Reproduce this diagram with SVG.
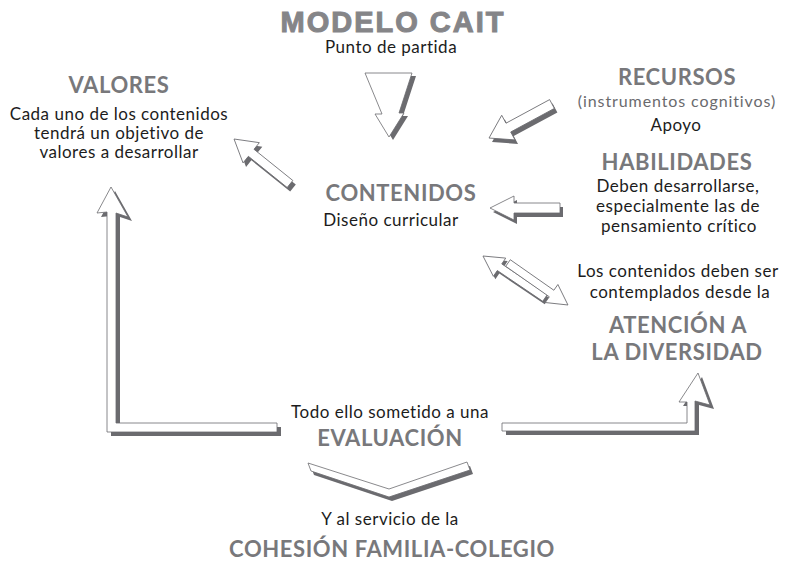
<svg xmlns="http://www.w3.org/2000/svg" width="790" height="564" viewBox="0 0 790 564">
<style>
.t{font-family:Lato,"Liberation Sans",sans-serif;font-weight:700;fill:#78787b;text-anchor:middle;font-size:22px;letter-spacing:0.6px}
.b{font-family:Lato,"Liberation Sans",sans-serif;fill:#1c1c1c;text-anchor:middle;font-size:17px;letter-spacing:0.5px}
.big{font-family:"Liberation Sans",Arial,sans-serif;font-weight:700;fill:#858588;text-anchor:middle;font-size:29px;letter-spacing:2px;stroke:#858588;stroke-width:1}
.sh{fill:#6b6b6f}
.ar{fill:#fff;stroke:#6b6b6f;stroke-width:0.8;stroke-linejoin:miter}
</style>
<rect width="790" height="564" fill="#fff"/>
<g id="connectors">
  <g id="arrow-top">
    <polygon class="sh" transform="translate(4,3)" points="365,73 412,73 399,113 404,113 389,137 375,114 382,114"/>
    <polygon class="ar" points="365,73 412,73 399,113 404,113 389,137 375,114 382,114"/>
  </g>
  <g id="arrow-recursos">
    <path class="sh" transform="translate(3,4) translate(552,104) rotate(151.6)" d="M0,-5 L49.6,-5 L49.6,-14 L71.6,0 L49.6,14 L49.6,5 L0,5 Z"/>
    <path class="ar" transform="translate(552,104) rotate(151.6)" d="M0,-5 L49.6,-5 L49.6,-14 L71.6,0 L49.6,14 L49.6,5 L0,5 Z"/>
  </g>
  <g id="arrow-valores">
    <path class="sh" transform="translate(3,4) translate(290,184) rotate(-141.2)" d="M0,-4.5 L49.8,-4.5 L49.8,-13 L71.8,0 L49.8,13 L49.8,4.5 L0,4.5 Z"/>
    <path class="ar" transform="translate(290,184) rotate(-141.2)" d="M0,-4.5 L49.8,-4.5 L49.8,-13 L71.8,0 L49.8,13 L49.8,4.5 L0,4.5 Z"/>
  </g>
  <g id="arrow-habilidades">
    <path class="sh" transform="translate(3,4) translate(560,208) rotate(180)" d="M0,-5 L46,-5 L46,-12 L70,0 L46,12 L46,5 L0,5 Z"/>
    <path class="ar" transform="translate(560,208) rotate(180)" d="M0,-5 L46,-5 L46,-12 L70,0 L46,12 L46,5 L0,5 Z"/>
  </g>
  <g id="arrow-diversidad">
    <path class="sh" transform="translate(2,3) translate(545,298) rotate(-145.9)" d="M0,-4 L54.9,-4 L54.9,-11 L74.9,0 L54.9,11 L54.9,4 L0,4 Z"/>
    <path class="ar" transform="translate(545,298) rotate(-145.9)" d="M0,-4 L54.9,-4 L54.9,-11 L74.9,0 L54.9,11 L54.9,4 L0,4 Z"/>
    <path class="ar" transform="translate(508,263) rotate(35)" d="M0,-4 L53.2,-4 L53.2,-11 L73.2,0 L53.2,11 L53.2,4 L0,4 Z"/>
  </g>
  <g id="arrow-left-L">
    <polygon class="sh" transform="translate(4,4)" points="107,432 277,432 277,423 116,423 116,213 128,217 111,187 97,213 107,212"/>
    <polygon class="ar" points="107,432 277,432 277,423 116,423 116,213 128,217 111,187 97,213 107,212"/>
  </g>
  <g id="arrow-right-L">
    <polygon class="sh" transform="translate(4,4)" points="502,423 687,423 687,402 679,402 698,373 710,405 695,401 695,431 502,431"/>
    <polygon class="ar" points="502,423 687,423 687,402 679,402 698,373 710,405 695,401 695,431 502,431"/>
  </g>
  <g id="arrow-bottom">
    <polygon class="sh" transform="translate(3,4)" points="308,463 389,489 467,462 470,470 389,497 311,471"/>
    <polygon class="ar" points="308,463 389,489 467,462 470,470 389,497 311,471"/>
  </g>
</g>
<g id="node-modelo">
  <text class="big" x="393" y="32">MODELO CAIT</text>
  <text class="b" x="391" y="53">Punto de partida</text>
</g>
<g id="node-valores">
  <text class="t" x="119" y="93">VALORES</text>
  <text class="b" x="119" y="120">Cada uno de los contenidos</text>
  <text class="b" x="119" y="139">tendrá un objetivo de</text>
  <text class="b" x="119" y="158">valores a desarrollar</text>
</g>
<g id="node-recursos">
  <text class="t" x="677" y="85">RECURSOS</text>
  <text class="b" x="677" y="107" style="fill:#6a6a6d;font-size:16px;letter-spacing:0.9px">(instrumentos cognitivos)</text>
  <text class="b" x="676" y="131">Apoyo</text>
</g>
<g id="node-habilidades">
  <text class="t" x="677" y="170">HABILIDADES</text>
  <text class="b" x="678" y="192">Deben desarrollarse,</text>
  <text class="b" x="678" y="212">especialmente las de</text>
  <text class="b" x="679" y="232">pensamiento crítico</text>
</g>
<g id="node-contenidos">
  <text class="t" x="401" y="201">CONTENIDOS</text>
  <text class="b" x="391" y="226">Diseño curricular</text>
</g>
<g id="node-diversidad">
  <text class="b" x="678" y="277">Los contenidos deben ser</text>
  <text class="b" x="680" y="298">contemplados desde la</text>
  <text class="t" x="678" y="333">ATENCIÓN A</text>
  <text class="t" x="677" y="360">LA DIVERSIDAD</text>
</g>
<g id="node-evaluacion">
  <text class="b" x="390" y="418">Todo ello sometido a una</text>
  <text class="t" x="390" y="446">EVALUACIÓN</text>
</g>
<g id="node-cohesion">
  <text class="b" x="390" y="525">Y al servicio de la</text>
  <text class="t" x="392" y="557">COHESIÓN FAMILIA-COLEGIO</text>
</g>
</svg>
